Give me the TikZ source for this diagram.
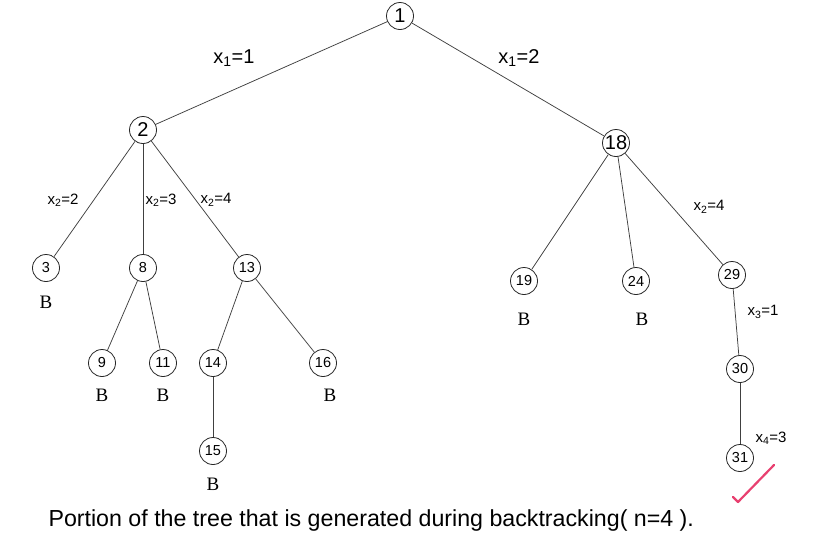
\documentclass[tikz,border=0pt]{standalone}
\usepackage{fontspec}
\setmainfont{Liberation Sans}
\newfontfamily\bfont{Liberation Serif}
\usepackage{tikz}
\usetikzlibrary{positioning}

\definecolor{tick}{RGB}{232,64,112}

\begin{document}
\begin{tikzpicture}
    [
    x=1pt,y=-1pt,
    vertex/.style={circle,draw=black!85,line width=0.8pt,inner sep=0pt,minimum size=27pt,font=\fontsize{14.5}{14.5}\selectfont},
    bigvertex/.style={vertex,font=\fontsize{20}{20}\selectfont},
    bound/.style={font=\bfont\fontsize{19}{19}\selectfont},
    biglabel/.style={font=\fontsize{20}{20}\selectfont},
    smalllabel/.style={font=\fontsize{15}{15}\selectfont},
    edge/.style={draw=black!75,line width=0.75pt},
    ]
    \useasboundingbox (0,0) rectangle (820,552);

    % level 0 and 1
    \node (1) at (400,16) [bigvertex] {1};
    \node (2) at (143,130) [bigvertex] {2};
    \node (18) at (616,143) [bigvertex] {18};
    \draw [edge] (1) to (2);
    \draw [edge] (1) to (18);
    \node (l12) at (234,58) [biglabel] {x\textsubscript{1}=1};
    \node (l118) at (519,58) [biglabel] {x\textsubscript{1}=2};

    % left subtree
    \node (3) at (46,268) [vertex] {3};
    \node (8) at (143,268) [vertex] {8};
    \node (13) at (247,268) [vertex] {13};
    \draw [edge] (2) to (3);
    \draw [edge] (2) to (8);
    \draw [edge] (2) to (13);
    \node (l23) at (63,200) [smalllabel] {x\textsubscript{2}=2};
    \node (l28) at (161,200) [smalllabel] {x\textsubscript{2}=3};
    \node (l213) at (216,200) [smalllabel] {x\textsubscript{2}=4};

    \node (9) at (102,363) [vertex] {9};
    \node (11) at (163,363) [vertex] {11};
    \node (14) at (213,363) [vertex] {14};
    \node (16) at (323,363) [vertex] {16};
    \node (15) at (213,451) [vertex] {15};
    \draw [edge] (8) to (9);
    \draw [edge] (8) to (11);
    \draw [edge] (13) to (14);
    \draw [edge] (13) to (16);
    \draw [edge] (14) to (15);

    % right subtree
    \node (19) at (524,281) [vertex] {19};
    \node (24) at (636,281) [vertex] {24};
    \node (29) at (732,275) [vertex] {29};
    \node (30) at (740,369) [vertex] {30};
    \node (31) at (740,458) [vertex] {31};
    \draw [edge] (18) to (19);
    \draw [edge] (18) to (24);
    \draw [edge] (18) to (29);
    \draw [edge] (29) to (30);
    \draw [edge] (30) to (31);
    \node (l1829) at (709,207) [smalllabel] {x\textsubscript{2}=4};
    \node (l2930) at (763,312) [smalllabel] {x\textsubscript{3}=1};
    \node (l3031) at (771,438) [smalllabel] {x\textsubscript{4}=3};

    % bounded nodes
    \node (b3) at (46,302) [bound] {B};
    \node (b9) at (102,395) [bound] {B};
    \node (b11) at (163,395) [bound] {B};
    \node (b16) at (330,395) [bound] {B};
    \node (b15) at (213,484) [bound] {B};
    \node (b19) at (524,319) [bound] {B};
    \node (b24) at (642,319) [bound] {B};

    % answer
    \draw [tick,line width=2.2pt,line cap=round,line join=round]
        (733,497) -- (738,502) -- (774,465);

    \node (caption) at (45,520) [anchor=west,font=\fontsize{23.2}{23.2}\selectfont]
        {Portion of the tree that is generated during backtracking( n=4 ).};
  \end{tikzpicture}
\end{document}
